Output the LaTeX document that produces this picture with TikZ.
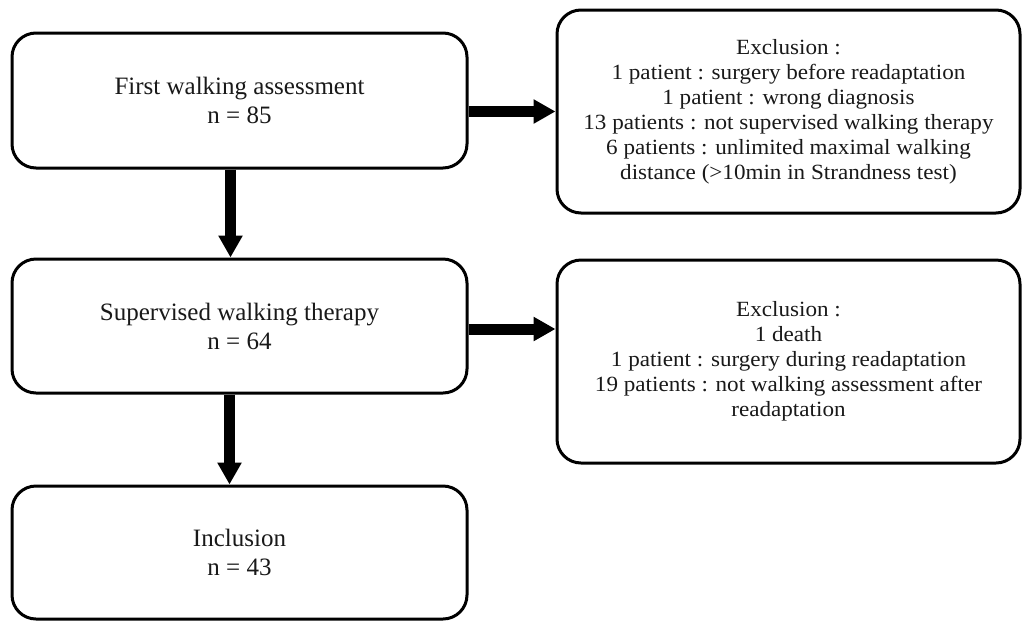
\documentclass[tikz,border=0pt]{standalone}
\usepackage{fontspec}
\setmainfont{Liberation Serif}
\newfontfamily\widefont[FakeStretch=1.065]{Liberation Serif}
\usetikzlibrary{arrows.meta}
\begin{document}
\begin{tikzpicture}[x=1pt,y=-1pt,
  box/.style={draw=black, line width=3pt, rounded corners=24pt, fill=white,
    align=center, inner sep=0pt, text=black!90},
  lbox/.style={box, minimum width=455pt, font=\fontsize{25}{29}\selectfont},
  rbox/.style={box, minimum width=463pt, minimum height=203pt, font=\widefont\fontsize{21.7}{25}\selectfont},
  arr/.style={line width=11pt, -{Triangle[width=23pt,length=22pt]}}]
\useasboundingbox (0,0) rectangle (1023,622);
\node[lbox, minimum height=135pt] (b1) at (239.5,100.5) {First walking assessment\\n = 85};
\node[lbox, minimum height=134pt] (b2) at (239.5,326) {Supervised walking therapy\\n = 64};
\node[lbox, minimum height=133pt] (b3) at (239.5,552.5) {Inclusion\\n = 43};
\node[rbox] (r1) at (788.5,111.5) {Exclusion :\\1 patient : surgery before readaptation\\1 patient : wrong diagnosis\\13 patients : not supervised walking therapy\\6 patients : unlimited maximal walking\\distance (>10min in Strandness test)};
\node[rbox] (r2) at (788.5,361.5) {Exclusion :\\1 death\\1 patient : surgery during readaptation\\19 patients : not walking assessment after\\readaptation};
\draw[arr] (b1.east |- r1.west) -- (r1.west);
\draw[arr] ([yshift=-3pt]b2.east) -- ([yshift=-3pt]b2.east -| r2.west);
\draw[arr] ([xshift=-9pt]b1.south) -- ([xshift=-9pt]b2.north);
\draw[arr] ([xshift=-10pt]b2.south) -- ([xshift=-10pt]b3.north);
\end{tikzpicture}
\end{document}
